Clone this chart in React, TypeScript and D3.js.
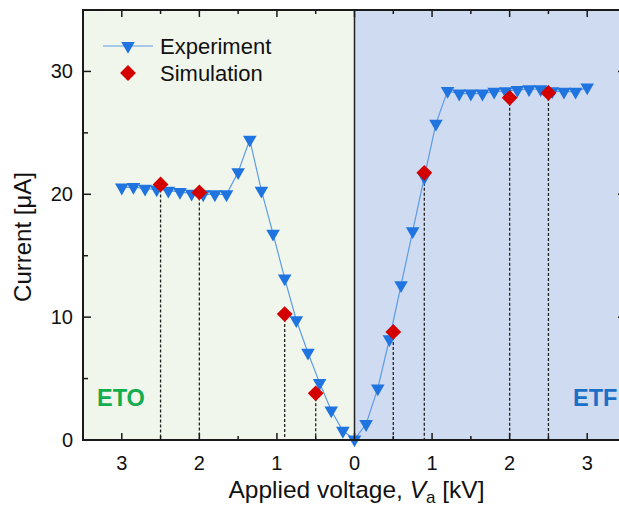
import React, { useEffect, useRef } from 'react';
import * as d3 from 'd3';

// experiment: voltage (kV, negative = ETO side) and current (uA)
const expVoltage = [
  -3.0, -2.85, -2.7, -2.55, -2.4, -2.25, -2.1, -1.95, -1.8, -1.65,
  -1.5, -1.35, -1.2, -1.05, -0.9, -0.75, -0.6, -0.45, -0.3, -0.15,
  0, 0.15, 0.3, 0.45, 0.6, 0.75, 0.9, 1.05, 1.2, 1.35,
  1.5, 1.65, 1.8, 1.95, 2.1, 2.25, 2.4, 2.55, 2.7, 2.85, 3.0
];
const expCurrent = [
  20.55, 20.6, 20.45, 20.4, 20.3, 20.2, 20.05, 20.0, 20.0, 20.0,
  21.8, 24.45, 20.3, 16.8, 13.15, 9.75, 7.1, 4.65, 2.4, 0.75,
  0.05, 1.3, 4.2, 8.2, 12.6, 17.0, 21.4, 25.75, 28.42, 28.2,
  28.2, 28.2, 28.35, 28.4, 28.5, 28.55, 28.55, 28.4, 28.35, 28.35, 28.7
];

// simulation points
const simVoltage = [-2.5, -2.0, -0.9, -0.5, 0.5, 0.9, 2.0, 2.5];
const simCurrent = [20.8, 20.15, 10.25, 3.8, 8.8, 21.75, 27.85, 28.25];

const xMajorTicks = [-3, -2, -1, 0, 1, 2, 3];
const xMinorTicks = [-3.5, -2.5, -1.5, -0.5, 0.5, 1.5, 2.5, 3.5];
const yMajorTicks = [0, 10, 20, 30];
const yMinorTicks = [5, 15, 25, 35];

const App = () => {
  const svgRef = useRef<SVGSVGElement>(null);

  useEffect(() => {
    const svg = d3.select(svgRef.current);
    svg.selectAll('*').remove();

    const left = 83, right = 626, top = 10, bottom = 440;
    const font = 'Liberation Sans, Arial, sans-serif';

    const x = d3.scaleLinear().domain([-3.5, 3.5]).range([left, right]);
    const y = d3.scaleLinear().domain([0, 35]).range([bottom, top]);

    //region backgrounds
    svg.append('rect')
      .attr('x', left).attr('y', top)
      .attr('width', x(0) - left).attr('height', bottom - top)
      .attr('fill', '#f1f6ec');
    svg.append('rect')
      .attr('x', x(0)).attr('y', top)
      .attr('width', right - x(0)).attr('height', bottom - top)
      .attr('fill', '#cfdbf0');

    //zero divider
    svg.append('line')
      .attr('x1', x(0)).attr('x2', x(0))
      .attr('y1', top).attr('y2', bottom)
      .attr('stroke', '#222').attr('stroke-width', 1.5);

    //dashed drop lines
    svg.append('g').selectAll('line')
      .data(simVoltage)
      .enter().append('line')
      .attr('x1', d => x(d)).attr('x2', d => x(d))
      .attr('y1', (d, i) => y(simCurrent[i]))
      .attr('y2', bottom)
      .attr('stroke', '#222')
      .attr('stroke-width', 1.3)
      .attr('stroke-dasharray', '3,2');

    //experiment line
    const pts = expVoltage.map((v, i) => [v, expCurrent[i]] as [number, number]);
    const line = d3.line<[number, number]>()
      .x(d => x(d[0]))
      .y(d => y(d[1]));
    svg.append('path')
      .datum(pts)
      .attr('fill', 'none')
      .attr('stroke', '#5d9be6')
      .attr('stroke-width', 1.2)
      .attr('d', line);

    const tri = d3.symbol().type(d3.symbolTriangle).size(80)();
    const dia = d3.symbol().type(d3.symbolSquare).size(125)();

    //experiment markers
    svg.append('g').selectAll('path')
      .data(pts)
      .enter().append('path')
      .attr('d', tri)
      .attr('transform', d => `translate(${x(d[0])},${y(d[1])}) rotate(180)`)
      .attr('fill', '#1f74df');

    //simulation markers
    svg.append('g').selectAll('path')
      .data(simVoltage)
      .enter().append('path')
      .attr('d', dia)
      .attr('transform', (d, i) => `translate(${x(d)},${y(simCurrent[i])}) rotate(45)`)
      .attr('fill', '#d40000');

    //frame
    svg.append('rect')
      .attr('x', left).attr('y', top)
      .attr('width', right - left).attr('height', bottom - top)
      .attr('fill', 'none')
      .attr('stroke', '#1a1a1a')
      .attr('stroke-width', 2);

    //ticks, all pointing inward
    const tickG = svg.append('g').attr('stroke', '#1a1a1a').attr('stroke-width', 1.5);
    const xTicks = [...xMajorTicks.map(t => ({ t, len: 7 })), ...xMinorTicks.map(t => ({ t, len: 4 }))];
    xTicks.forEach(({ t, len }) => {
      tickG.append('line').attr('x1', x(t)).attr('x2', x(t)).attr('y1', bottom).attr('y2', bottom - len);
      tickG.append('line').attr('x1', x(t)).attr('x2', x(t)).attr('y1', top).attr('y2', top + len);
    });
    const yTicks = [...yMajorTicks.map(t => ({ t, len: 8 })), ...yMinorTicks.map(t => ({ t, len: 5 }))];
    yTicks.forEach(({ t, len }) => {
      tickG.append('line').attr('y1', y(t)).attr('y2', y(t)).attr('x1', left).attr('x2', left + len);
      tickG.append('line').attr('y1', y(t)).attr('y2', y(t)).attr('x1', right).attr('x2', right - len);
    });

    //tick labels
    svg.append('g').selectAll('text')
      .data(xMajorTicks)
      .enter().append('text')
      .attr('x', d => x(d))
      .attr('y', 470)
      .attr('text-anchor', 'middle')
      .attr('font-family', font)
      .attr('font-size', 20)
      .attr('fill', '#111')
      .text(d => Math.abs(d));

    svg.append('g').selectAll('text')
      .data(yMajorTicks)
      .enter().append('text')
      .attr('x', 73)
      .attr('y', d => y(d) + 7)
      .attr('text-anchor', 'end')
      .attr('font-family', font)
      .attr('font-size', 20)
      .attr('fill', '#111')
      .text(d => d);

    //axis titles
    const xt = svg.append('text')
      .attr('x', x(0) + 2)
      .attr('y', 498)
      .attr('text-anchor', 'middle')
      .attr('font-family', font)
      .attr('font-size', 24.5)
      .attr('fill', '#111');
    xt.append('tspan').text('Applied voltage, ');
    xt.append('tspan').attr('font-style', 'italic').text('V');
    xt.append('tspan').attr('font-size', 17).attr('dy', 5).text('a');
    xt.append('tspan').attr('dy', -5).text(' [kV]');

    svg.append('text')
      .attr('transform', `translate(31,${(top + bottom) / 2 + 12}) rotate(-90)`)
      .attr('text-anchor', 'middle')
      .attr('font-family', font)
      .attr('font-size', 24)
      .attr('fill', '#111')
      .text('Current [μA]');

    //region labels
    svg.append('text')
      .attr('x', 97).attr('y', 406)
      .attr('font-family', font).attr('font-size', 23.5).attr('font-weight', 'bold')
      .attr('fill', '#12ad4e')
      .text('ETO');
    svg.append('text')
      .attr('x', 573).attr('y', 406)
      .attr('font-family', font).attr('font-size', 23.5).attr('font-weight', 'bold')
      .attr('fill', '#1a6fc6')
      .text('ETF');

    //legend
    const lg = svg.append('g');
    lg.append('line')
      .attr('x1', 103).attr('x2', 153).attr('y1', 46).attr('y2', 46)
      .attr('stroke', '#5d9be6').attr('stroke-width', 1.2);
    lg.append('path').attr('d', tri)
      .attr('transform', 'translate(128,46) rotate(180)')
      .attr('fill', '#1f74df');
    lg.append('path').attr('d', dia)
      .attr('transform', 'translate(128,73) rotate(45)')
      .attr('fill', '#d40000');
    lg.append('text')
      .attr('x', 160).attr('y', 54)
      .attr('font-family', font).attr('font-size', 22).attr('fill', '#111')
      .text('Experiment');
    lg.append('text')
      .attr('x', 160).attr('y', 81)
      .attr('font-family', font).attr('font-size', 22).attr('fill', '#111')
      .text('Simulation');
  }, []);

  return (
    <svg
      ref={svgRef}
      width={619}
      height={508}
      style={{ position: 'absolute', left: 0, top: 0, display: 'block', background: '#fff' }}
    />
  );
};

export default App;
